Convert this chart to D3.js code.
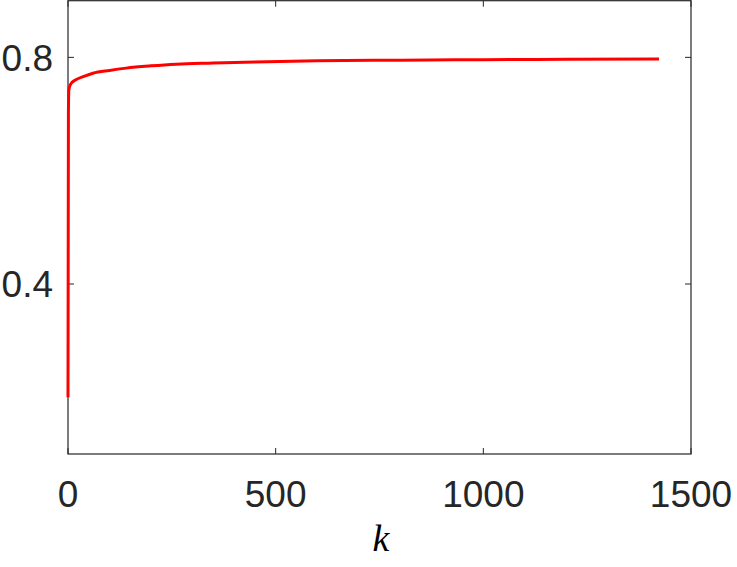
<!DOCTYPE html>
<html><head><meta charset="utf-8">
<script src="https://cdn.jsdelivr.net/npm/d3@7/dist/d3.min.js"></script>
<style>body{margin:0;background:#fff}svg{display:block}</style>
</head><body>
<svg id="c" width="737" height="567"></svg>
<script>
const kValues = [0, 1, 2, 4, 10, 20, 40, 60, 100, 140, 200, 260, 350, 450, 600, 800, 1000, 1200, 1423];
const seriesValues = [0.2, 0.70, 0.742, 0.749, 0.756, 0.761, 0.767, 0.772, 0.777, 0.781, 0.785, 0.788, 0.790, 0.792, 0.794, 0.795, 0.796, 0.7965, 0.797];
const xTicks = [0, 500, 1000, 1500];
const yTicks = [0.4, 0.8];
const xDomain = [0, 1500];
const yDomain = [0.1, 0.9];

const svg = d3.select("#c");
const L = 68, R = 691, T = 0.7, B = 454;
const x = d3.scaleLinear().domain(xDomain).range([L, R]);
const y = d3.scaleLinear().domain(yDomain).range([B, T]);
const axisColor = "#262626";
const font = "'Liberation Sans', Arial, Helvetica, sans-serif";

// box
svg.append("rect").attr("x", L).attr("y", T).attr("width", R - L).attr("height", B - T)
  .attr("fill", "none").attr("stroke", axisColor).attr("stroke-width", 1.2);

// ticks
const tl = 6;
xTicks.forEach(t => {
  svg.append("line").attr("x1", x(t)).attr("x2", x(t)).attr("y1", B).attr("y2", B - tl).attr("stroke", axisColor);
  svg.append("line").attr("x1", x(t)).attr("x2", x(t)).attr("y1", T).attr("y2", T + tl).attr("stroke", axisColor);
  svg.append("text").attr("x", x(t)).attr("y", 507).attr("text-anchor", "middle")
    .attr("font-family", font).attr("font-size", 37).attr("fill", axisColor).text(d3.format("d")(t));
});
yTicks.forEach(t => {
  svg.append("line").attr("x1", L).attr("x2", L + tl).attr("y1", y(t)).attr("y2", y(t)).attr("stroke", axisColor);
  svg.append("line").attr("x1", R).attr("x2", R - tl).attr("y1", y(t)).attr("y2", y(t)).attr("stroke", axisColor);
  svg.append("text").attr("x", 53).attr("y", y(t)).attr("dy", "0.36em").attr("text-anchor", "end")
    .attr("font-family", font).attr("font-size", 37).attr("fill", axisColor).text(t.toFixed(1));
});

// x label
svg.append("text").attr("x", 381).attr("y", 551).attr("text-anchor", "middle")
  .attr("font-family", "'Liberation Serif', 'Times New Roman', serif").attr("font-style", "italic")
  .attr("font-size", 38).attr("fill", "#000").text("k");

// line
const data = kValues.map((k, i) => [k, seriesValues[i]]);
svg.append("path").datum(data)
  .attr("d", d3.line().x(d => x(d[0])).y(d => y(d[1])).curve(d3.curveMonotoneX))
  .attr("fill", "none").attr("stroke", "#ff0000").attr("stroke-width", 3).attr("stroke-linejoin", "round");
</script>
</body></html>
